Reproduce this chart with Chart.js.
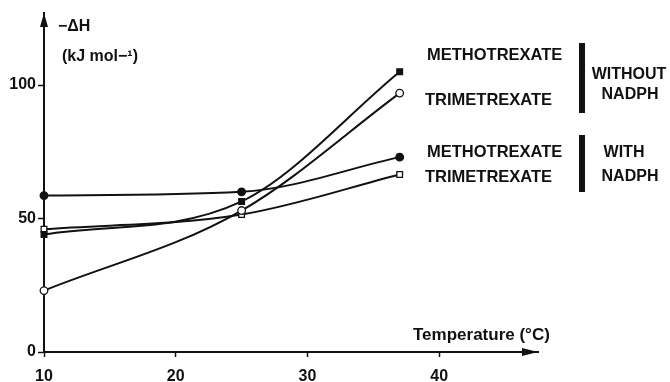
<!DOCTYPE html>
<html>
<head>
<meta charset="utf-8">
<script src="https://cdn.jsdelivr.net/npm/chart.js@4.4.1/dist/chart.umd.min.js"></script>
<style>
  html, body { margin: 0; padding: 0; background: #fff; }
  #wrap { width: 670px; height: 382px; }
</style>
</head>
<body>
<div id="wrap"><canvas id="myChart"></canvas></div>
<script>
var temperatura = [10, 25, 37];
var mtxSem = [44, 56.4, 105];
var tmxSem = [23, 53, 97];
var mtxCom = [58.6, 60, 73];
var tmxCom = [46, 51.5, 66.5];
var xTicks = [10, 20, 30, 40];
var yTicks = [0, 50, 100];

var fonte = "'Liberation Sans', Arial, sans-serif";

function pontos(valores) {
  return temperatura.map(function (t, i) {
    return { x: t, y: valores[i] };
  });
}

function serie(label, valores, estilo, preenchido) {
  return {
    label: label,
    data: pontos(valores),
    borderColor: "#111",
    borderWidth: 2,
    cubicInterpolationMode: "monotone",
    pointStyle: estilo,
    pointRadius: estilo == "rect" ? 4 : 3.8,
    pointBackgroundColor: preenchido ? "#111" : "#fff",
    pointBorderColor: "#111",
    pointBorderWidth: 1.3,
    clip: false,
  };
}

// setas dos eixos e textos
var textos = {
  id: "textos",
  afterDraw: function (chart) {
    var c = chart.ctx;
    var a = chart.chartArea;
    c.save();
    c.fillStyle = "#111";
    c.strokeStyle = "#111";
    // seta y
    c.beginPath();
    c.moveTo(a.left, a.top);
    c.lineTo(a.left - 4, a.top + 14);
    c.lineTo(a.left + 4, a.top + 14);
    c.closePath();
    c.fill();
    // seta x
    c.beginPath();
    c.moveTo(a.right, a.bottom);
    c.lineTo(a.right - 16, a.bottom - 4);
    c.lineTo(a.right - 16, a.bottom + 4);
    c.closePath();
    c.fill();

    c.textBaseline = "middle";
    c.textAlign = "left";
    c.font = "bold 16px " + fonte;
    c.fillText("\u2212\u0394H", 58, 27);
    c.font = "bold 16px " + fonte;
    c.fillText("(kJ mol\u2212\u00B9)", 62, 57);
    c.font = "bold 17px " + fonte;
    c.fillText("Temperature (\u00B0C)", 413, 335);

    c.font = "bold 16.5px " + fonte;
    c.fillText("METHOTREXATE", 427, 55);
    c.fillText("TRIMETREXATE", 425, 100);
    c.fillText("METHOTREXATE", 427, 152);
    c.fillText("TRIMETREXATE", 425, 177);

    c.fillRect(579, 43, 6, 70);
    c.fillRect(579, 135, 6, 57);

    c.textAlign = "center";
    c.font = "bold 16px " + fonte;
    c.fillText("WITHOUT", 629, 75);
    c.fillText("NADPH", 630, 95);
    c.fillText("WITH", 624, 153);
    c.fillText("NADPH", 630, 177);
    c.restore();
  },
};

var ctx = document.getElementById("myChart");
var config = {
  type: "line",
  data: {
    datasets: [
      serie("Methotrexate sem NADPH", mtxSem, "rect", true),
      serie("Trimetrexate sem NADPH", tmxSem, "circle", false),
      serie("Methotrexate com NADPH", mtxCom, "circle", true),
      serie("Trimetrexate com NADPH", tmxCom, "rect", false),
    ],
  },
  options: {
    responsive: true,
    maintainAspectRatio: false,
    animation: false,
    layout: { padding: { top: 13, right: 132, left: 0, bottom: 0 } },
    plugins: { legend: { display: false }, tooltip: { enabled: false } },
    scales: {
      x: {
        type: "linear",
        min: 10,
        max: 47.5,
        afterBuildTicks: function (axis) {
          axis.ticks = xTicks.map(function (v) { return { value: v }; });
        },
        afterFit: function (axis) { axis.height = 30; },
        grid: {
          display: true,
          drawOnChartArea: false,
          drawTicks: true,
          tickLength: 5,
          color: "#111",
          tickWidth: 1.5,
        },
        border: { display: true, color: "#111", width: 2 },
        ticks: {
          color: "#111",
          padding: 10,
          maxRotation: 0,
          font: { family: fonte, size: 16, weight: "bold" },
        },
      },
      y: {
        min: 0,
        max: 127,
        afterBuildTicks: function (axis) {
          axis.ticks = yTicks.map(function (v) { return { value: v }; });
        },
        afterFit: function (axis) { axis.width = 44; },
        grid: {
          display: true,
          drawOnChartArea: false,
          drawTicks: true,
          tickLength: 6,
          color: "#111",
          tickWidth: 1.5,
        },
        border: { display: true, color: "#111", width: 2 },
        ticks: {
          color: "#111",
          padding: 2,
          font: { family: fonte, size: 16, weight: "bold" },
        },
      },
    },
  },
  plugins: [textos],
};

myChart = new Chart(ctx, config);
</script>
</body>
</html>
